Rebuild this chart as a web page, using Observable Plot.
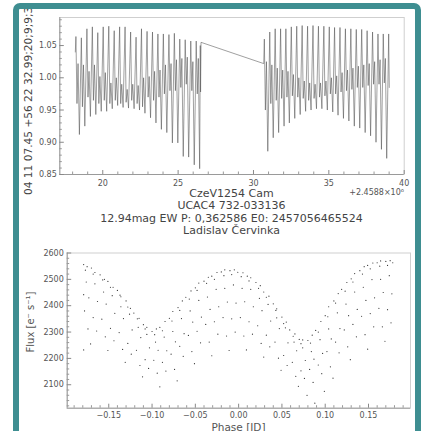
<!DOCTYPE html>
<html><head><meta charset="utf-8">
<script src="https://cdn.jsdelivr.net/npm/d3@7"></script>
<script src="https://cdn.jsdelivr.net/npm/@observablehq/plot@0.6"></script>
<style>
html,body{margin:0;padding:0;background:#fff;}
#wrap{position:relative;width:426px;height:431px;overflow:hidden;background:#fff;font-family:"DejaVu Sans",sans-serif;}
#wrap svg{position:absolute;left:0;}
.t{position:absolute;white-space:nowrap;color:#444;}
#titles{position:absolute;left:59px;width:345px;top:188px;text-align:center;font-size:11px;line-height:12.3px;color:#444;}
#border{position:absolute;left:13px;top:3px;width:408px;height:440px;border:6px solid #3e8e91;border-radius:7px;box-sizing:border-box;pointer-events:none;}
</style></head>
<body>
<div id="wrap">
  <div id="plots"></div>
  <div id="titles"><div>CzeV1254 Cam</div><div>UCAC4 732-033136</div><div>12.94mag EW P: 0,362586 E0: 2457056465524</div><div>Ladislav Červinka</div></div>
  <div class="t" style="right:22px;top:188px;font-size:8px;color:#555;">+2.4588×10⁶</div>
  <svg id="rot" width="426" height="431" style="top:0;pointer-events:none;font-family:'DejaVu Sans',sans-serif;">
    <text transform="translate(32,195) rotate(-90)" font-size="10.6" fill="#444">04 11 07.45 +56 22 32.99;20;9;9;3</text>
    <text transform="translate(33.5,322) rotate(-90)" font-size="10" fill="#555" text-anchor="middle">Flux [e⁻ s⁻¹]</text>
    <text x="238.5" y="430.5" font-size="10.5" fill="#555" text-anchor="middle">Phase [JD]</text>
  </svg>
  <div id="border"></div>
</div>
<script>
// ---- Light curve (time [JD - 2458800], normalised flux) ----
const segment1 = [
 [18.18,1.040],
 [18.22,1.064],[18.29,0.960],[18.36,1.022],[18.45,0.912],
 [18.58,1.062],[18.65,0.955],[18.72,1.020],[18.81,0.925],
 [18.95,1.076],[19.02,0.970],[19.09,1.010],[19.18,0.940],
 [19.31,1.079],[19.38,0.965],[19.45,1.020],[19.54,0.943],
 [19.67,1.070],[19.74,0.960],[19.81,1.002],[19.90,0.948],
 [20.03,1.079],[20.10,0.965],[20.17,1.008],[20.26,0.948],
 [20.40,1.080],[20.47,0.960],[20.54,0.992],[20.63,0.952],
 [20.76,1.073],[20.83,0.965],[20.90,1.000],[20.99,0.957],
 [21.12,1.079],[21.19,0.960],[21.26,0.990],[21.35,0.954],
 [21.48,1.079],[21.55,0.962],[21.62,0.982],[21.71,0.953],
 [21.85,1.071],[21.92,0.965],[21.99,0.990],[22.08,0.952],
 [22.21,1.063],[22.28,0.960],[22.35,0.988],[22.44,0.950],
 [22.57,1.076],[22.64,0.955],[22.71,1.000],[22.80,0.945],
 [22.94,1.072],[23.01,0.970],[23.08,1.002],[23.17,0.938],
 [23.30,1.071],[23.37,0.965],[23.44,1.010],[23.53,0.930],
 [23.66,1.068],[23.73,0.970],[23.80,1.012],[23.89,0.920],
 [24.02,1.068],[24.09,0.975],[24.16,1.020],[24.25,0.915],
 [24.39,1.067],[24.46,0.980],[24.53,1.022],[24.62,0.899],
 [24.75,1.069],[24.82,0.980],[24.89,1.028],[24.98,0.899],
 [25.11,1.060],[25.18,0.985],[25.25,1.030],[25.34,0.878],
 [25.47,1.059],[25.54,0.990],[25.61,1.032],[25.70,0.877],
 [25.84,1.057],[25.91,0.980],[25.98,1.025],[26.07,0.865],
 [26.20,1.057],[26.27,0.975],[26.34,1.030],[26.43,0.859],
 [26.47,1.050],[26.49,0.978],[26.52,1.055]
];
const segment2 = [
 [30.68,1.022],
 [30.72,1.060],[30.79,0.950],[30.86,1.025],[30.95,0.886],
 [31.08,1.071],[31.15,0.960],[31.22,1.020],[31.31,0.907],
 [31.44,1.076],[31.51,0.965],[31.58,1.015],[31.67,0.915],
 [31.80,1.076],[31.87,0.968],[31.94,1.012],[32.03,0.925],
 [32.15,1.076],[32.22,0.970],[32.29,1.010],[32.38,0.930],
 [32.51,1.079],[32.58,0.972],[32.65,1.005],[32.74,0.937],
 [32.87,1.080],[32.94,0.970],[33.01,1.000],[33.10,0.943],
 [33.23,1.081],[33.30,0.968],[33.37,0.995],[33.46,0.948],
 [33.59,1.080],[33.66,0.965],[33.73,0.992],[33.82,0.950],
 [33.95,1.081],[34.02,0.968],[34.09,0.990],[34.18,0.952],
 [34.31,1.080],[34.38,0.970],[34.45,0.992],[34.54,0.952],
 [34.67,1.080],[34.74,0.972],[34.81,0.995],[34.90,0.950],
 [35.03,1.079],[35.10,0.975],[35.17,1.000],[35.26,0.947],
 [35.38,1.078],[35.45,0.975],[35.52,1.003],[35.61,0.942],
 [35.74,1.078],[35.81,0.978],[35.88,1.008],[35.97,0.937],
 [36.10,1.076],[36.17,0.980],[36.24,1.012],[36.33,0.933],
 [36.46,1.076],[36.53,0.982],[36.60,1.015],[36.69,0.925],
 [36.82,1.075],[36.89,0.985],[36.96,1.018],[37.05,0.922],
 [37.18,1.075],[37.25,0.985],[37.32,1.020],[37.41,0.915],
 [37.54,1.073],[37.61,0.988],[37.68,1.022],[37.77,0.910],
 [37.90,1.071],[37.97,0.990],[38.04,1.025],[38.13,0.900],
 [38.26,1.068],[38.33,0.990],[38.40,1.028],[38.49,0.889],
 [38.61,1.068],[38.68,0.992],[38.75,1.030],[38.84,0.875],
 [38.97,1.068],[39.01,0.985]
];

// ---- Phase-folded flux [e-/s] ----
const phaseMainA = [[-0.179,2556],[-0.175,2548],[-0.170,2543],[-0.166,2526],[-0.160,2517],[-0.155,2500],[-0.151,2492],[-0.145,2470],[-0.140,2458],[-0.136,2434],[-0.130,2418],[-0.125,2390],[-0.121,2372],[-0.115,2352],[-0.110,2328],[-0.106,2318],[-0.100,2302],[-0.095,2312],[-0.091,2318],[-0.085,2340],[-0.080,2352],[-0.076,2378],[-0.070,2393],[-0.065,2418],[-0.061,2432],[-0.055,2456],[-0.050,2468],[-0.046,2486],[-0.040,2493],[-0.035,2508],[-0.031,2512],[-0.025,2526],[-0.020,2528],[-0.016,2536],[-0.010,2533],[-0.005,2536],[-0.001,2527],[0.005,2525],[0.010,2512],[0.014,2506],[0.020,2488],[0.025,2476],[0.029,2452],[0.035,2436],[0.040,2407],[0.044,2388],[0.050,2357],[0.055,2338],[0.059,2308],[0.065,2293],[0.070,2272],[0.074,2270],[0.080,2268],[0.085,2288],[0.089,2306],[0.095,2340],[0.100,2362],[0.104,2396],[0.110,2418],[0.115,2446],[0.119,2462],[0.125,2488],[0.130,2502],[0.134,2522],[0.140,2533],[0.145,2548],[0.149,2553],[0.155,2562],[0.160,2563],[0.164,2570],[0.170,2568],[0.175,2571],[0.178,2563]];
const phaseMainB = [[-0.177,2535],[-0.168,2520],[-0.157,2498],[-0.148,2470],[-0.137,2440],[-0.128,2395],[-0.117,2350],[-0.108,2312],[-0.097,2290],[-0.088,2305],[-0.077,2342],[-0.068,2382],[-0.057,2425],[-0.048,2458],[-0.037,2485],[-0.028,2500],[-0.017,2514],[-0.008,2518],[0.003,2510],[0.012,2494],[0.023,2466],[0.032,2432],[0.043,2382],[0.052,2332],[0.063,2284],[0.072,2256],[0.083,2258],[0.092,2300],[0.103,2358],[0.112,2410],[0.123,2455],[0.132,2490],[0.143,2520],[0.152,2540],[0.163,2550],[0.172,2553]];
const phaseTrack1 = [[-0.176,2490],[-0.166,2483],[-0.156,2452],[-0.146,2438],[-0.136,2396],[-0.126,2368],[-0.116,2318],[-0.106,2291],[-0.096,2262],[-0.086,2281],[-0.076,2302],[-0.066,2351],[-0.056,2380],[-0.046,2420],[-0.036,2433],[-0.026,2462],[-0.016,2466],[-0.006,2479],[0.004,2466],[0.014,2462],[0.024,2428],[0.034,2405],[0.044,2354],[0.054,2316],[0.064,2262],[0.074,2240],[0.084,2226],[0.094,2271],[0.104,2312],[0.114,2373],[0.124,2406],[0.134,2452],[0.144,2470],[0.154,2499],[0.164,2500],[0.174,2514]];
const phaseTrack2 = [[-0.179,2442],[-0.173,2430],[-0.163,2416],[-0.153,2406],[-0.143,2371],[-0.133,2351],[-0.123,2308],[-0.113,2279],[-0.103,2240],[-0.093,2231],[-0.083,2229],[-0.073,2263],[-0.063,2294],[-0.053,2338],[-0.043,2357],[-0.033,2386],[-0.023,2396],[-0.013,2414],[-0.003,2410],[0.007,2415],[0.017,2396],[0.027,2381],[0.037,2342],[0.047,2313],[0.057,2259],[0.067,2229],[0.077,2192],[0.087,2197],[0.097,2219],[0.107,2274],[0.117,2313],[0.127,2362],[0.137,2386],[0.147,2420],[0.157,2430],[0.167,2450],[0.177,2445]];
const phaseTrack3 = [[-0.178,2380],[-0.168,2355],[-0.158,2349],[-0.148,2314],[-0.138,2298],[-0.128,2257],[-0.118,2231],[-0.108,2195],[-0.098,2193],[-0.088,2185],[-0.078,2216],[-0.068,2246],[-0.058,2287],[-0.048,2303],[-0.038,2329],[-0.028,2339],[-0.018,2355],[-0.008,2350],[0.002,2355],[0.012,2339],[0.022,2324],[0.032,2288],[0.042,2262],[0.052,2211],[0.062,2185],[0.072,2153],[0.082,2158],[0.092,2175],[0.102,2226],[0.112,2262],[0.122,2308],[0.132,2329],[0.142,2360],[0.152,2370],[0.162,2390],[0.172,2385]];
const phaseTrack4 = [[-0.174,2312],[-0.164,2304],[-0.154,2282],[-0.144,2267],[-0.134,2234],[-0.124,2216],[-0.114,2173],[-0.104,2162],[-0.094,2144],[-0.084,2152],[-0.074,2158],[-0.064,2208],[-0.054,2226],[-0.044,2259],[-0.034,2262],[-0.024,2292],[-0.014,2285],[-0.004,2300],[0.006,2285],[0.016,2292],[0.026,2257],[0.036,2244],[0.046,2201],[0.056,2173],[0.066,2132],[0.076,2124],[0.086,2109],[0.096,2142],[0.106,2168],[0.116,2221],[0.126,2244],[0.136,2282],[0.146,2290],[0.156,2320],[0.166,2320],[0.176,2335]];
const phaseTrack5 = [[-0.179,2232],[-0.171,2255],[-0.151,2230],[-0.131,2185],[-0.111,2130],[-0.091,2092],[-0.071,2115],[-0.051,2180],[-0.031,2210],[-0.011,2230],[0.009,2232],[0.029,2205],[0.049,2155],[0.069,2094],[0.079,2060],[0.088,2030],[0.099,2075],[0.109,2125],[0.129,2195],[0.149,2235],[0.169,2265]];

// ---- Axis ticks ----
const topXTicks = [20, 25, 30, 35, 40];
const topYTicks = [0.85, 0.90, 0.95, 1.00, 1.05];
const botXTicks = [-0.15, -0.10, -0.05, 0.00, 0.05, 0.10, 0.15];
const botYTicks = [2100, 2200, 2300, 2400, 2500, 2600];

const lightCurve = segment1.concat(segment2).map(([t, f]) => ({t, f}));
const phased = [phaseMainA, phaseMainB, phaseTrack1, phaseTrack2, phaseTrack3, phaseTrack4, phaseTrack5]
  .flat().map(([p, v]) => ({p, v}));

const topXMinor = d3.range(18, 40, 1).filter(v => !topXTicks.includes(v));
const topYMinor = d3.range(86, 110, 1).map(v => v / 100).filter(v => !topYTicks.some(t => Math.abs(t - v) < 1e-9));
const botXMinor = d3.range(-19, 20, 1).map(v => v / 100).filter(v => !botXTicks.some(t => Math.abs(t - v) < 1e-9));
const botYMinor = d3.range(2020, 2600, 20).filter(v => v % 100 !== 0);

const baseStyle = {background: "transparent", fontFamily: "DejaVu Sans", fontSize: "8px", color: "#555", overflow: "visible"};

// top panel frame: x 59.3..403.7, y 17..174
const tW = 403.7 - 59.3, tH = 174 - 17;
const topPlot = Plot.plot({
  width: 426, height: 200,
  marginLeft: 59.3, marginRight: 426 - 403.7, marginTop: 17, marginBottom: 26,
  x: {domain: [17.15, 40]},
  y: {domain: [0.85, 1.0935]},
  style: baseStyle,
  marks: [
    Plot.frame({stroke: "#cfcfcf"}),
    Plot.ruleX([17.15], {stroke: "#9a9a9a"}),
    Plot.ruleY([0.85], {stroke: "#9a9a9a"}),
    Plot.tickX(topXTicks, {x: d => d, insetTop: tH - 4, stroke: "#888"}),
    Plot.tickX(topXMinor, {x: d => d, insetTop: tH - 2.5, stroke: "#999"}),
    Plot.tickY(topYTicks, {y: d => d, insetRight: tW - 4.5, stroke: "#888"}),
    Plot.tickY(topYMinor, {y: d => d, insetRight: tW - 2.5, stroke: "#999"}),
    Plot.line(lightCurve, {x: "t", y: "f", stroke: "#505050", strokeWidth: 0.55}),
    Plot.axisX(topXTicks, {tickSize: 0, tickPadding: 5.5, tickFormat: d3.format("d"), label: null}),
    Plot.axisY(topYTicks, {tickSize: 0, tickPadding: 3, tickFormat: d3.format(".2f"), label: null})
  ]
});
topPlot.style.top = "0px";

// bottom panel frame: x 66.7..410, y 252.5..407.7 (svg placed at top 200)
const bW = 410 - 66.7, bH = 407.7 - 252.5;
const botPlot = Plot.plot({
  width: 426, height: 231,
  marginLeft: 66.7, marginRight: 16, marginTop: 52.5, marginBottom: 231 - 207.7,
  x: {domain: [-0.198, 0.1985]},
  y: {domain: [2011, 2600]},
  style: baseStyle,
  marks: [
    Plot.frame({stroke: "#cfcfcf"}),
    Plot.ruleX([-0.198], {stroke: "#9a9a9a"}),
    Plot.ruleY([2011], {stroke: "#9a9a9a"}),
    Plot.tickX(botXTicks, {x: d => d, insetTop: bH - 4, stroke: "#888"}),
    Plot.tickX(botXMinor, {x: d => d, insetTop: bH - 2.5, stroke: "#999"}),
    Plot.tickY(botYTicks, {y: d => d, insetRight: bW - 4.5, stroke: "#888"}),
    Plot.tickY(botYMinor, {y: d => d, insetRight: bW - 2.5, stroke: "#999"}),
    Plot.dot(phased, {x: "p", y: "v", r: 0.6, fill: "#333", stroke: null}),
    Plot.axisX(botXTicks, {tickSize: 0, tickPadding: 4, tickFormat: d3.format(".2f"), label: null}),
    Plot.axisY(botYTicks, {tickSize: 0, tickPadding: 3.4, tickFormat: d3.format("d"), label: null})
  ]
});
botPlot.style.top = "200px";

const holder = document.getElementById("plots");
holder.appendChild(topPlot);
holder.appendChild(botPlot);
</script>
</body></html>
